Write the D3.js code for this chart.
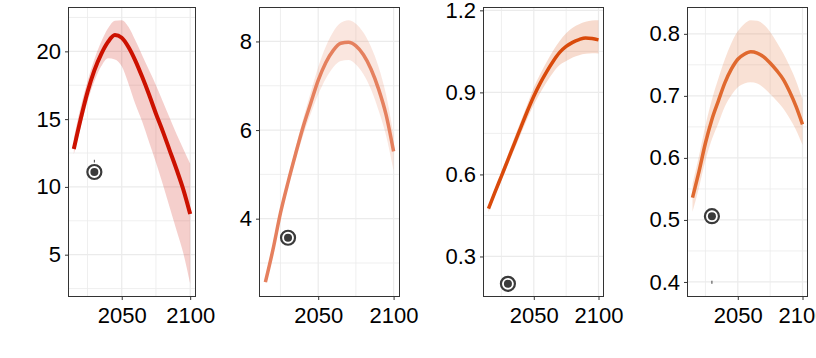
<!DOCTYPE html>
<html>
<head>
<meta charset="utf-8">
<script src="https://cdn.jsdelivr.net/npm/d3@7"></script>
<style>
  html, body { margin: 0; padding: 0; background: #ffffff; }
  svg { display: block; }
  text { font-family: "Liberation Sans", Arial, sans-serif; }
</style>
</head>
<body>
<svg id="chart" width="816" height="358"></svg>
<script>
// ---------------- DATA ----------------
const years = [2015, 2020, 2025, 2030, 2035, 2040, 2045, 2050, 2055, 2060, 2065, 2070, 2075, 2080, 2085, 2090, 2095, 2100];

const meanA  = [12.8, 15.0, 17.0, 18.6, 19.8, 20.7, 21.2, 21.0, 20.3, 19.3, 18.1, 16.8, 15.4, 14.1, 12.7, 11.3, 9.8, 8.0];
const upperA = [13.6, 15.9, 17.8, 19.4, 20.7, 21.7, 22.25, 22.3, 21.8, 20.8, 19.7, 18.6, 17.5, 16.3, 15.1, 13.9, 12.8, 11.7];
const lowerA = [12.4, 14.4, 16.3, 17.8, 18.9, 19.5, 19.4, 18.9, 17.6, 16.1, 14.8, 13.3, 11.8, 10.2, 8.5, 6.8, 5.1, 2.85];

const meanB  = [2.57, 3.3, 4.13, 4.82, 5.46, 6.07, 6.6, 7.12, 7.52, 7.8, 7.96, 7.98, 7.9, 7.7, 7.38, 6.93, 6.35, 5.52];
const upperB = [2.62, 3.36, 4.2, 4.92, 5.6, 6.25, 6.85, 7.42, 7.88, 8.22, 8.42, 8.48, 8.4, 8.2, 7.88, 7.43, 6.8, 5.88];
const lowerB = [2.53, 3.24, 4.05, 4.72, 5.32, 5.88, 6.36, 6.8, 7.16, 7.42, 7.56, 7.58, 7.48, 7.26, 6.92, 6.45, 5.88, 5.08];

const meanC  = [0.475, 0.535, 0.594, 0.653, 0.713, 0.772, 0.831, 0.886, 0.934, 0.976, 1.014, 1.046, 1.068, 1.083, 1.093, 1.099, 1.097, 1.092];
const upperC = [0.487, 0.548, 0.61, 0.672, 0.734, 0.795, 0.857, 0.917, 0.967, 1.012, 1.053, 1.088, 1.116, 1.136, 1.149, 1.158, 1.163, 1.164];
const lowerC = [0.462, 0.522, 0.579, 0.635, 0.691, 0.748, 0.804, 0.855, 0.899, 0.938, 0.973, 1.0, 1.015, 1.028, 1.036, 1.041, 1.043, 1.042];

const meanD  = [0.536, 0.578, 0.624, 0.662, 0.692, 0.721, 0.743, 0.759, 0.767, 0.771, 0.769, 0.763, 0.753, 0.741, 0.727, 0.707, 0.683, 0.654];
const upperD = [0.558, 0.603, 0.652, 0.694, 0.728, 0.759, 0.785, 0.804, 0.816, 0.822, 0.821, 0.815, 0.803, 0.787, 0.769, 0.748, 0.724, 0.694];
const lowerD = [0.513, 0.552, 0.596, 0.63, 0.656, 0.683, 0.701, 0.714, 0.72, 0.722, 0.72, 0.713, 0.703, 0.692, 0.68, 0.664, 0.645, 0.621];

const pointYear = 2030;
const pointValues = [11.1, 3.57, 0.2, 0.506];
// tiny dark marks (errorbar stubs) [low, high] or null
const stubValues = [[11.8, 12.0], null, null, [0.397, 0.402]];

const xTicks = [2050, 2100];
const xMinor = [2025, 2075];
const yTicksA = [5, 10, 15, 20];
const yTicksB = [4, 6, 8];
const yTicksC = [0.3, 0.6, 0.9, 1.2];
const yTicksD = [0.4, 0.5, 0.6, 0.7, 0.8];
const yMinorA = [2.5, 7.5, 12.5, 17.5, 22.5];
const yMinorB = [3, 5, 7];
const yMinorC = [0.45, 0.75, 1.05];
const yMinorD = [0.45, 0.55, 0.65, 0.75];
const yFormats = [d3.format("d"), d3.format("d"), d3.format(".1f"), d3.format(".1f")];

const lineColors = ["#cc1100", "#e5805e", "#d94a0b", "#e0692f"];

// ---------------- LAYOUT ----------------
const panels = [
  { left: 68,  right: 196, mean: meanA, upper: upperA, lower: lowerA, yTicks: yTicksA, yMinor: yMinorA, lw: 4 },
  { left: 259, right: 400, mean: meanB, upper: upperB, lower: lowerB, yTicks: yTicksB, yMinor: yMinorB, lw: 3.5 },
  { left: 483, right: 604, mean: meanC, upper: upperC, lower: lowerC, yTicks: yTicksC, yMinor: yMinorC, lw: 3.5 },
  { left: 687, right: 808, mean: meanD, upper: upperD, lower: lowerD, yTicks: yTicksD, yMinor: yMinorD, lw: 3.5 }
];
const topY = 7, bottomY = 297;

const svg = d3.select("#chart");

function expand(ext, f = 0.05) {
  const r = ext[1] - ext[0];
  return [ext[0] - r * f, ext[1] + r * f];
}

panels.forEach((p, i) => {
  const xExt = d3.extent(years.concat([pointYear]));
  const vals = p.mean.concat(p.upper, p.lower, [pointValues[i]], stubValues[i] ? stubValues[i] : []);
  const x = d3.scaleLinear().domain(expand(xExt)).range([p.left, p.right]);
  const y = d3.scaleLinear().domain(expand(d3.extent(vals))).range([bottomY, topY]);

  const g = svg.append("g");
  const clipId = "clip" + i;
  svg.append("clipPath").attr("id", clipId)
    .append("rect").attr("x", p.left).attr("y", topY).attr("width", p.right - p.left).attr("height", bottomY - topY);

  const grid = g.append("g").attr("clip-path", `url(#${clipId})`);
  grid.selectAll(".xmin").data(xMinor).join("line")
    .attr("class", "xmin")
    .attr("x1", d => x(d)).attr("x2", d => x(d)).attr("y1", topY).attr("y2", bottomY)
    .attr("stroke", "#ebebeb").attr("stroke-width", 0.8);
  grid.selectAll(".ymin").data(p.yMinor).join("line")
    .attr("class", "ymin")
    .attr("x1", p.left).attr("x2", p.right).attr("y1", d => y(d)).attr("y2", d => y(d))
    .attr("stroke", "#ebebeb").attr("stroke-width", 0.8);
  grid.selectAll(".xmaj").data(xTicks).join("line")
    .attr("class", "xmaj")
    .attr("x1", d => x(d)).attr("x2", d => x(d)).attr("y1", topY).attr("y2", bottomY)
    .attr("stroke", "#ebebeb").attr("stroke-width", 1.2);
  grid.selectAll(".ymaj").data(p.yTicks).join("line")
    .attr("class", "ymaj")
    .attr("x1", p.left).attr("x2", p.right).attr("y1", d => y(d)).attr("y2", d => y(d))
    .attr("stroke", "#ebebeb").attr("stroke-width", 1.2);

  const rows = years.map((yr, k) => ({ yr, m: p.mean[k], lo: p.lower[k], hi: p.upper[k] }));
  const area = d3.area().x(d => x(d.yr)).y0(d => y(d.lo)).y1(d => y(d.hi)).curve(d3.curveMonotoneX);
  const line = d3.line().x(d => x(d.yr)).y(d => y(d.m)).curve(d3.curveMonotoneX);

  const plot = g.append("g").attr("clip-path", `url(#${clipId})`);
  plot.append("path").attr("d", area(rows)).attr("fill", lineColors[i]).attr("fill-opacity", 0.2);
  plot.append("path").attr("d", line(rows)).attr("fill", "none").attr("stroke", lineColors[i])
    .attr("stroke-width", p.lw).attr("stroke-linejoin", "round");

  if (stubValues[i]) {
    plot.append("line")
      .attr("x1", x(pointYear)).attr("x2", x(pointYear))
      .attr("y1", y(stubValues[i][0])).attr("y2", y(stubValues[i][1]))
      .attr("stroke", "#404040").attr("stroke-width", 1);
  }
  const px = x(pointYear), py = y(pointValues[i]);
  plot.append("circle").attr("cx", px).attr("cy", py).attr("r", 7)
    .attr("fill", "#ffffff").attr("stroke", "#3a3a3a").attr("stroke-width", 2.2);
  plot.append("circle").attr("cx", px).attr("cy", py).attr("r", 4).attr("fill", "#3a3a3a");

  g.append("rect").attr("x", p.left + 0.5).attr("y", topY + 0.5)
    .attr("width", p.right - p.left - 1).attr("height", bottomY - topY - 1)
    .attr("fill", "none").attr("stroke", "#333333").attr("stroke-width", 1);

  const xAxis = d3.axisBottom(x).tickValues(xTicks).tickFormat(d3.format("d")).tickSize(3).tickPadding(4);
  const xa = g.append("g").attr("transform", `translate(0,${bottomY})`).call(xAxis);
  xa.select(".domain").remove();
  xa.selectAll(".tick line").attr("stroke", "#333333");
  xa.selectAll(".tick text").attr("font-size", 22).attr("fill", "#000000")
    .attr("font-family", "'Liberation Sans', Arial, sans-serif").attr("dy", "0.85em");

  const yAxis = d3.axisLeft(y).tickValues(p.yTicks).tickFormat(yFormats[i]).tickSize(3).tickPadding(4);
  const ya = g.append("g").attr("transform", `translate(${p.left},0)`).call(yAxis);
  ya.select(".domain").remove();
  ya.selectAll(".tick line").attr("stroke", "#333333");
  ya.selectAll(".tick text").attr("font-size", 22).attr("fill", "#000000")
    .attr("font-family", "'Liberation Sans', Arial, sans-serif");
});
</script>
</body>
</html>
